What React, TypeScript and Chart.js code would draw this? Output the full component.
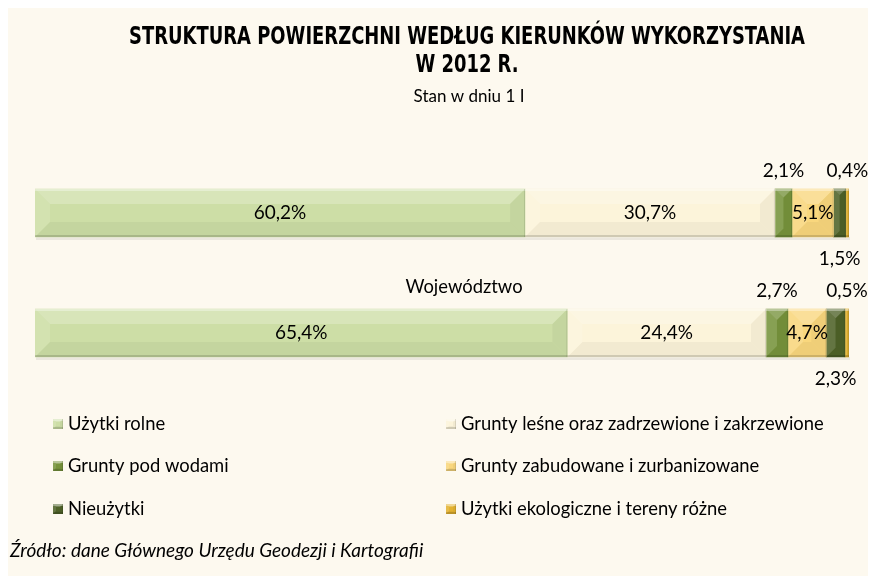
import React, { useEffect, useRef } from "react";
import { Chart, registerables } from "chart.js";

Chart.register(...registerables);

// ---------- data ----------
const titleLines = ["STRUKTURA POWIERZCHNI WEDŁUG KIERUNKÓW WYKORZYSTANIA", "W 2012 R."];
const subtitleText = "Stan w dniu 1 I";
const categories = ["", "Województwo"];
const seriesNames = [
  "Użytki rolne",
  "Grunty leśne oraz zadrzewione i zakrzewione",
  "Grunty pod wodami",
  "Grunty zabudowane i zurbanizowane",
  "Nieużytki",
  "Użytki ekologiczne i tereny różne",
];
const uzytkiRolne = [60.2, 65.4];
const gruntyLesne = [30.7, 24.4];
const gruntyPodWodami = [2.1, 2.7];
const gruntyZabudowane = [5.1, 4.7];
const nieuzytki = [1.5, 2.3];
const uzytkiEkologiczne = [0.4, 0.5];
const sourceText = "Źródło: dane Głównego Urzędu Geodezji i Kartografii";

// ---------- styles ----------
const seriesValues = [uzytkiRolne, gruntyLesne, gruntyPodWodami, gruntyZabudowane, nieuzytki, uzytkiEkologiczne];
const seriesColors = ["#CDDEA6", "#FCF4DA", "#77933C", "#F9D77D", "#4F6228", "#E3B230"];
const labelPlacement = ["center", "center", "above", "center", "below", "above"];
const BG = "#FDF9EF";
const SANS = "Lato, 'Open Sans', sans-serif";
const CONDENSED = "'Liberation Sans Narrow', 'DejaVu Sans Condensed', 'Arial Narrow', sans-serif";

function bevel(ctx: CanvasRenderingContext2D, l: number, t: number, r: number, b: number, maxD: number) {
  const w = r - l;
  const h = b - t;
  const d = Math.max(0, Math.min(maxD, w / 2, h / 2));
  const poly = (pts: number[][], fill: string) => {
    ctx.beginPath();
    ctx.moveTo(pts[0][0], pts[0][1]);
    for (let i = 1; i < pts.length; i++) ctx.lineTo(pts[i][0], pts[i][1]);
    ctx.closePath();
    ctx.fillStyle = fill;
    ctx.fill();
  };
  poly([[l, t], [r, t], [r - d, t + d], [l + d, t + d]], "rgba(255,255,255,0.22)");
  poly([[l, b], [r, b], [r - d, b - d], [l + d, b - d]], "rgba(0,0,0,0.04)");
  poly([[l, t], [l + d, t + d], [l + d, b - d], [l, b]], "rgba(255,255,255,0.12)");
  poly([[r, t], [r - d, t + d], [r - d, b - d], [r, b]], "rgba(0,0,0,0.04)");
  ctx.fillStyle = "rgba(255,255,255,0.35)";
  ctx.fillRect(l, t, w, Math.min(2, h));
  ctx.fillStyle = "rgba(0,0,0,0.14)";
  ctx.fillRect(l, b - 2, w, 2);
  ctx.fillStyle = "rgba(0,0,0,0.10)";
  ctx.fillRect(r - 1, t, 1, h);
}

const shadowPlugin = {
  id: "barShadow",
  beforeDatasetsDraw(chart: any) {
    const ctx = chart.ctx;
    const metas = chart.getSortedVisibleDatasetMetas();
    ctx.save();
    ctx.fillStyle = "rgba(0,0,0,0.07)";
    categories.forEach((_, i) => {
      let minX = Infinity, maxX = -Infinity, bottom = 0;
      metas.forEach((m: any) => {
        const el = m.data[i];
        if (!el) return;
        const p = el.getProps(["x", "y", "base", "height"], true);
        minX = Math.min(minX, p.x, p.base);
        maxX = Math.max(maxX, p.x, p.base);
        bottom = p.y + p.height / 2;
      });
      ctx.fillRect(minX + 1, bottom, maxX - minX, 3);
    });
    ctx.restore();
  },
};

const bevelPlugin = {
  id: "bevel",
  afterDatasetsDraw(chart: any) {
    const ctx = chart.ctx;
    ctx.save();
    chart.getSortedVisibleDatasetMetas().forEach((m: any) => {
      m.data.forEach((el: any) => {
        const p = el.getProps(["x", "y", "base", "height"], true);
        const l = Math.min(p.x, p.base);
        const r = Math.max(p.x, p.base);
        bevel(ctx, l, p.y - p.height / 2, r, p.y + p.height / 2, 15);
      });
    });
    ctx.restore();
  },
};

const fmt = (v: number) => v.toFixed(1).replace(".", ",") + "%";

const textPlugin = {
  id: "texts",
  afterDraw(chart: any) {
    const ctx: CanvasRenderingContext2D = chart.ctx;
    const ca = chart.chartArea;
    const yScale = chart.scales.y;
    ctx.save();
    ctx.fillStyle = "#000";
    ctx.textBaseline = "middle";
    ctx.textAlign = "center";

    // Title (condensed bold)
    ctx.font = `bold 24px ${CONDENSED}`;
    const w1 = ctx.measureText(titleLines[0]).width;
    const sx = 676 / w1;
    const titleX = 461;
    [33, 61].forEach((ty, i) => {
      ctx.save();
      ctx.translate(titleX, ty);
      ctx.scale(sx, 1);
      ctx.fillText(titleLines[i], 0, 0);
      ctx.restore();
    });

    // Subtitle
    ctx.font = `17px ${SANS}`;
    ctx.fillText(subtitleText, 463, 92);

    // Category labels
    ctx.font = `18.4px ${SANS}`;
    categories.forEach((c, i) => {
      if (!c) return;
      ctx.fillText(c, (ca.left + ca.right) / 2 + 22, yScale.getPixelForValue(i) - 46);
    });

    // Data labels
    ctx.font = `19px ${SANS}`;
    chart.getSortedVisibleDatasetMetas().forEach((m: any) => {
      const di = m.index;
      m.data.forEach((el: any, i: number) => {
        const p = el.getProps(["x", "y", "base", "height"], true);
        const cx = (p.x + p.base) / 2;
        const top = p.y - p.height / 2;
        const bottom = p.y + p.height / 2;
        let cy = p.y;
        if (labelPlacement[di] === "above") cy = top - 18;
        if (labelPlacement[di] === "below") cy = bottom + 22;
        ctx.fillText(fmt(seriesValues[di][i]), cx, cy);
      });
    });

    // Legend (two columns, row-major)
    ctx.textAlign = "left";
    ctx.font = `18.4px ${SANS}`;
    const colX = [47, 440];
    const rowY = [419, 461, 504];
    seriesNames.forEach((name, k) => {
      const x = colX[k % 2];
      const y = rowY[Math.floor(k / 2)];
      ctx.fillStyle = seriesColors[k];
      ctx.fillRect(x, y - 5, 10, 10);
      bevel(ctx, x, y - 5, x + 10, y + 5, 3);
      ctx.fillStyle = "#000";
      ctx.fillText(name, x + 15, y);
    });

    // Source
    ctx.font = `italic 19px ${SANS}`;
    ctx.fillText(sourceText, 4, 546);
    ctx.restore();
  },
};

export default function App() {
  const ref = useRef<HTMLCanvasElement | null>(null);
  useEffect(() => {
    if (!ref.current) return;
    const chart = new Chart(ref.current, {
      type: "bar",
      data: {
        labels: categories,
        datasets: seriesNames.map((name, k) => ({
          label: name,
          data: seriesValues[k],
          backgroundColor: seriesColors[k],
          borderWidth: 0,
          barThickness: 48,
          stack: "s",
        })),
      },
      options: {
        indexAxis: "y",
        responsive: false,
        animation: false,
        devicePixelRatio: 1,
        layout: { padding: { left: 29, right: 27, top: 148, bottom: 183 } },
        scales: {
          x: { stacked: true, min: 0, max: 100, display: false },
          y: { stacked: true, display: false, offset: true },
        },
        plugins: {
          legend: { display: false },
          title: { display: false },
          tooltip: { enabled: false },
        },
      },
      plugins: [shadowPlugin, bevelPlugin, textPlugin],
    } as any);
    return () => chart.destroy();
  }, []);
  return (
    <div style={{ marginLeft: -2, marginTop: -3, width: 870, height: 571, background: BG }}>
      <canvas ref={ref} width={870} height={571} style={{ display: "block" }} />
    </div>
  );
}
